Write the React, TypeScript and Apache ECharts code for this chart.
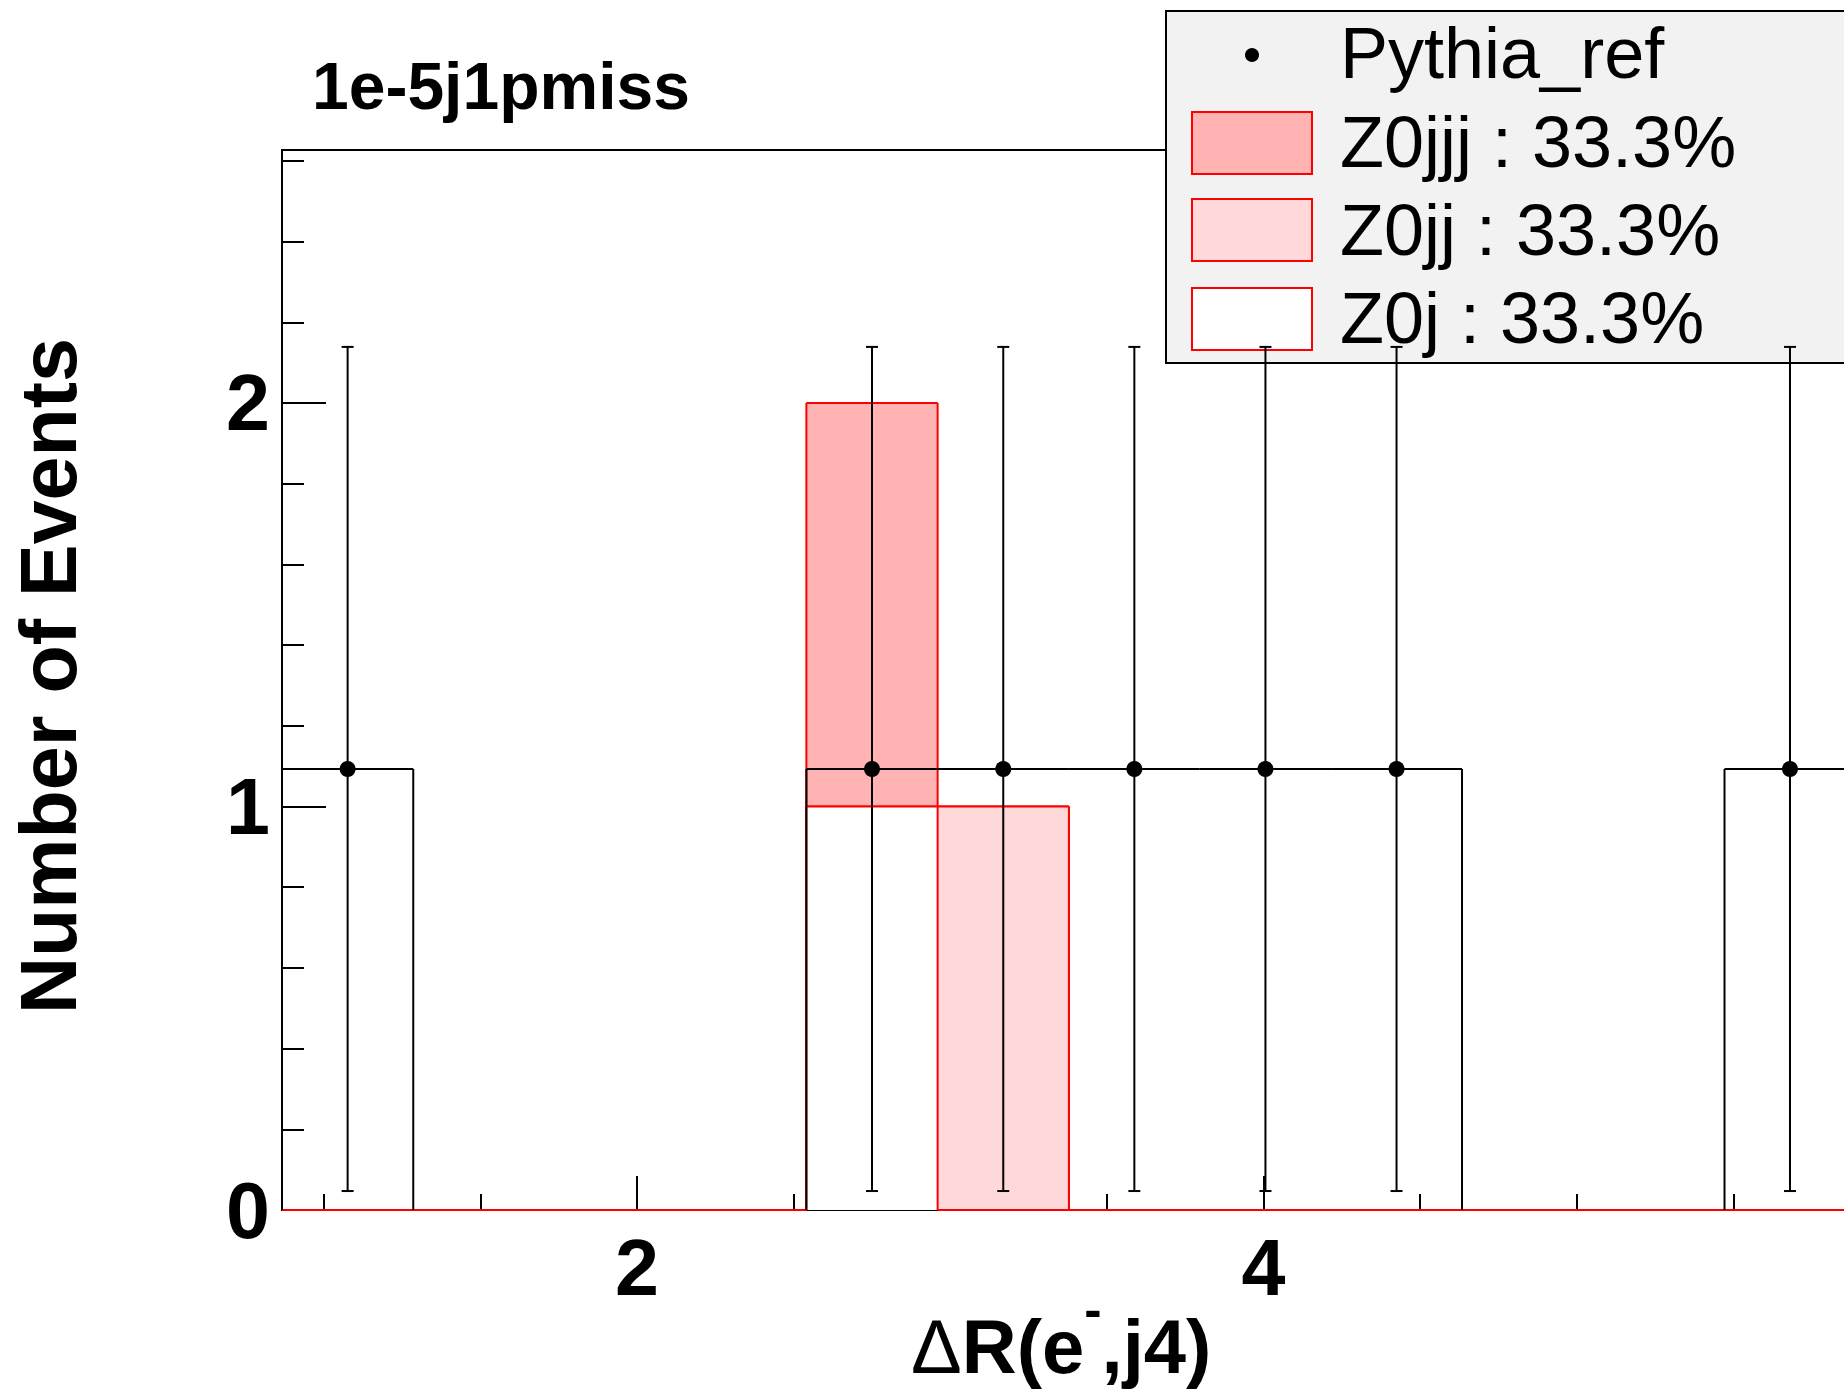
import React, { useEffect, useRef } from "react";
import * as echarts from "echarts";

// ---- data ----
const binEdges = [0.867, 1.286, 1.704, 2.123, 2.541, 2.96, 3.379, 3.797, 4.216, 4.634, 5.053, 5.472, 5.89, 6.309, 6.727];
const pythiaRef = [1.093, 0, 0, 0, 1.093, 1.093, 1.093, 1.093, 1.093, 0, 0, 1.093, 0, 0];
const pythiaErr = [1.046, 0, 0, 0, 1.046, 1.046, 1.046, 1.046, 1.046, 0, 0, 1.046, 0, 0];
const z0jjj = [0, 0, 0, 0, 1, 0, 0, 0, 0, 0, 0, 0, 0, 0];
const z0jj = [0, 0, 0, 0, 0, 1, 0, 0, 0, 0, 0, 0, 0, 0];
const z0j = [0, 0, 0, 0, 1, 0, 0, 0, 0, 0, 0, 0, 0, 0];
const legendLabels = ["Pythia_ref", "Z0jjj : 33.3%", "Z0jj : 33.3%", "Z0j : 33.3%"];
const xMajorTicks = [2, 4, 6];
const xTickLabels = [2, 4];
const xMinorTicks = [1, 1.5, 2.5, 3, 3.5, 4.5, 5, 5.5, 6.5];
const yMajorTicks = [0, 1, 2];
const yMinorTicks = [0.2, 0.4, 0.6, 0.8, 1.2, 1.4, 1.6, 1.8, 2.2, 2.4, 2.6];
const Y_MAX = 2.627;
const TITLE = "1e-5j1pmiss";
const Y_TITLE = "Number of Events";

const FONT = '"Liberation Sans", Arial, Helvetica, sans-serif';
const C_Z0JJJ = "#ffb3b3";
const C_Z0JJ = "#ffd9da";
const C_Z0J = "#ffffff";
const RED = "#ff0000";

function stepData(vals: number[]) {
  return vals.map((v, i) => [binEdges[i], binEdges[i + 1], v, i === 0 ? 0 : vals[i - 1], i === vals.length - 1 ? 1 : 0]);
}

function stepRenderer(fill: string | null, stroke: string, skipZero: boolean) {
  return (params: any, api: any) => {
    const lo = api.value(0);
    const hi = api.value(1);
    const v = api.value(2);
    const prev = api.value(3);
    const last = api.value(4);
    const pLo0 = api.coord([lo, 0]);
    const pHiV = api.coord([hi, v]);
    const pLoPrev = api.coord([lo, prev]);
    const pLoV = api.coord([lo, v]);
    const children: any[] = [];
    const ls = { stroke, lineWidth: 2 };
    if (fill && v > 0) {
      children.push({
        type: "rect",
        shape: { x: pLo0[0], y: pHiV[1], width: pHiV[0] - pLo0[0], height: pLo0[1] - pHiV[1] },
        style: { fill },
      });
    }
    if (!(skipZero && v === 0)) {
      children.push({ type: "line", shape: { x1: pLoV[0], y1: pLoV[1], x2: pHiV[0], y2: pHiV[1] }, style: ls });
    }
    if (prev !== v) {
      children.push({ type: "line", shape: { x1: pLoPrev[0], y1: pLoPrev[1], x2: pLoV[0], y2: pLoV[1] }, style: ls });
    }
    if (last && v > 0) {
      const pHi0 = api.coord([hi, 0]);
      children.push({ type: "line", shape: { x1: pHiV[0], y1: pHiV[1], x2: pHi0[0], y2: pHi0[1] }, style: ls });
    }
    return { type: "group", children };
  };
}

export default function App() {
  const ref = useRef<HTMLDivElement>(null);
  useEffect(() => {
    if (!ref.current) return;
    const chart = echarts.init(ref.current, null, { renderer: "svg" });

    const lvl1 = z0j.map((v) => v);
    const lvl2 = z0j.map((v, i) => v + z0jj[i]);
    const lvl3 = z0j.map((v, i) => v + z0jj[i] + z0jjj[i]);

    const centers = binEdges.slice(0, -1).map((e, i) => (e + binEdges[i + 1]) / 2);
    const pts = pythiaRef.map((v, i) => [centers[i], v, pythiaErr[i]]).filter((p) => p[1] > 0);

    const legendTop = 11;
    const rowBase = [78, 167, 255, 343];
    const boxTops = [0, 112, 199, 288];
    const boxFills = [null, C_Z0JJJ, C_Z0JJ, C_Z0J];

    const legendChildren: any[] = [
      {
        type: "rect",
        shape: { x: 1166, y: legendTop, width: 900, height: 352 },
        style: { fill: "#f2f2f2", stroke: "#000", lineWidth: 2 },
      },
      { type: "circle", shape: { cx: 1252, cy: 55, r: 7 }, style: { fill: "#000" } },
    ];
    legendLabels.forEach((lab, i) => {
      if (i > 0) {
        legendChildren.push({
          type: "rect",
          shape: { x: 1192, y: boxTops[i], width: 120, height: 62 },
          style: { fill: boxFills[i], stroke: RED, lineWidth: 2 },
        });
      }
      legendChildren.push({
        type: "text",
        x: 1340,
        y: rowBase[i] - 25,
        style: { text: lab, font: `72px ${FONT}`, fill: "#000", align: "left", verticalAlign: "middle" },
      });
    });

    const option: any = {
      animation: false,
      backgroundColor: "#ffffff",
      grid: {
        left: 282,
        top: 150,
        width: (binEdges[binEdges.length - 1] - binEdges[0]) * 313.25,
        height: 1060,
        show: true,
        borderColor: "#000",
        borderWidth: 2,
        backgroundColor: "transparent",
        outerBoundsMode: "none",
        containLabel: false,
      },
      xAxis: [
        {
          type: "value",
          min: binEdges[0],
          max: binEdges[binEdges.length - 1],
          position: "bottom",
          axisLine: { show: true, onZero: false, lineStyle: { color: "#000", width: 2 } },
          axisTick: { show: true, inside: true, length: 34, customValues: xMajorTicks, lineStyle: { color: "#000", width: 2 } },
          axisLabel: { customValues: xTickLabels, fontSize: 79, fontWeight: "bold", color: "#000", fontFamily: FONT, margin: 18 },
          splitLine: { show: false },
        },
        {
          type: "value",
          min: binEdges[0],
          max: binEdges[binEdges.length - 1],
          position: "bottom",
          axisLine: { show: false },
          axisTick: { show: true, inside: true, length: 16, customValues: xMinorTicks, lineStyle: { color: "#000", width: 2 } },
          axisLabel: { show: false },
          splitLine: { show: false },
        },
      ],
      yAxis: [
        {
          type: "value",
          min: 0,
          max: Y_MAX,
          position: "left",
          axisLine: { show: true, onZero: false, lineStyle: { color: "#000", width: 2 } },
          axisTick: { show: true, inside: true, length: 44, customValues: yMajorTicks, lineStyle: { color: "#000", width: 2 } },
          axisLabel: { customValues: yMajorTicks, fontSize: 79, fontWeight: "bold", color: "#000", fontFamily: FONT, margin: 12 },
          splitLine: { show: false },
        },
        {
          type: "value",
          min: 0,
          max: Y_MAX,
          position: "left",
          axisLine: { show: false },
          axisTick: { show: true, inside: true, length: 22, customValues: yMinorTicks, lineStyle: { color: "#000", width: 2 } },
          axisLabel: { show: false },
          splitLine: { show: false },
        },
      ],
      graphic: [
        {
          type: "text",
          x: 312,
          y: 86,
          style: { text: TITLE, font: `bold 66px ${FONT}`, fill: "#000", align: "left", verticalAlign: "middle" },
        },
        {
          type: "text",
          x: 48,
          y: 676,
          rotation: Math.PI / 2,
          style: { text: Y_TITLE, font: `bold 79px ${FONT}`, fill: "#000", align: "center", verticalAlign: "middle" },
        },
        {
          type: "text",
          x: 911,
          y: 1346,
          style: {
            text: "{d|Δ}{a|R(e}{s|-}{a|,j4)}",
            align: "left",
            verticalAlign: "middle",
            rich: {
              d: { fontSize: 76, lineHeight: 126, fontWeight: "normal", fontFamily: FONT, fill: "#000" },
              a: { fontSize: 76, lineHeight: 126, fontWeight: "bold", fontFamily: FONT, fill: "#000" },
              s: { fontSize: 52, lineHeight: 26, fontWeight: "bold", fontFamily: FONT, fill: "#000", verticalAlign: "top" },
            },
          },
        },
        { type: "group", z: 100, children: legendChildren },
      ],
      series: [
        {
          name: "Z0jjj",
          type: "custom",
          renderItem: stepRenderer(C_Z0JJJ, RED, false),
          data: stepData(lvl3),
          encode: { x: [0, 1], y: 2 },
          z: 2,
        },
        {
          name: "Z0jj",
          type: "custom",
          renderItem: stepRenderer(C_Z0JJ, RED, false),
          data: stepData(lvl2),
          encode: { x: [0, 1], y: 2 },
          z: 3,
        },
        {
          name: "Z0j",
          type: "custom",
          renderItem: stepRenderer(C_Z0J, RED, false),
          data: stepData(lvl1),
          encode: { x: [0, 1], y: 2 },
          z: 4,
        },
        {
          name: "Pythia_ref hist",
          type: "custom",
          renderItem: stepRenderer(null, "#000", true),
          data: stepData(pythiaRef),
          encode: { x: [0, 1], y: 2 },
          z: 5,
        },
        {
          name: "Pythia_ref errors",
          type: "custom",
          renderItem: (params: any, api: any) => {
            const x = api.value(0);
            const y = api.value(1);
            const e = api.value(2);
            const top = api.coord([x, y + e]);
            const bot = api.coord([x, y - e]);
            const ls = { stroke: "#000", lineWidth: 2 };
            return {
              type: "group",
              children: [
                { type: "line", shape: { x1: top[0], y1: top[1], x2: bot[0], y2: bot[1] }, style: ls },
                { type: "line", shape: { x1: top[0] - 6, y1: top[1], x2: top[0] + 6, y2: top[1] }, style: ls },
                { type: "line", shape: { x1: bot[0] - 6, y1: bot[1], x2: bot[0] + 6, y2: bot[1] }, style: ls },
              ],
            };
          },
          data: pts,
          encode: { x: 0, y: 1 },
          z: 6,
        },
        {
          name: "Pythia_ref",
          type: "scatter",
          data: pts.map((p) => [p[0], p[1]]),
          symbol: "circle",
          symbolSize: 16,
          itemStyle: { color: "#000", opacity: 1 },
          z: 7,
        },
      ],
    };
    chart.setOption(option);
    return () => chart.dispose();
  }, []);
  return <div ref={ref} style={{ position: "absolute", left: 0, top: 0, width: 1844, height: 1395 }} />;
}
